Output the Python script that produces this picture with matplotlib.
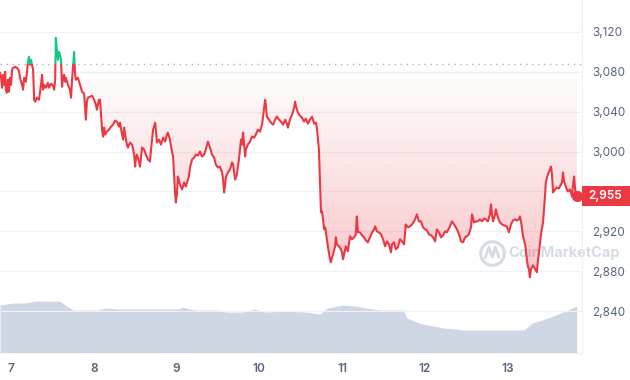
import numpy as np
import matplotlib
matplotlib.use("Agg")
import matplotlib.pyplot as plt
from matplotlib.path import Path
from matplotlib.patches import PathPatch, Rectangle
from matplotlib.transforms import blended_transform_factory

plt.rcParams['font.family'] = ['Inter', 'DejaVu Sans']

# hours since the start of the 7 day window (window starts Oct 6, ~20:48)
start_day = 6.867
hours = [
    0.0, 0.3, 0.6, 0.9, 1.2, 1.5, 1.7, 2.0, 2.3, 2.6, 2.9, 3.2, 3.5, 3.8, 4.4, 4.9, 5.5, 5.8, 6.4, 6.7,
    7.0, 7.5, 7.8, 8.1, 8.4, 8.7, 9.0, 9.3, 9.6, 9.9, 10.2, 10.7, 11.3, 11.9, 12.2, 12.5, 12.8, 13.3, 13.9, 14.2,
    14.8, 15.4, 15.7, 16.0, 16.2, 16.5, 16.8, 17.1, 17.4, 17.7, 18.0, 18.3, 18.6, 18.9, 19.1, 19.7, 20.3, 20.6, 20.9, 21.5,
    21.8, 22.0, 22.6, 23.2, 23.8, 24.4, 24.9, 25.2, 25.5, 26.1, 26.7, 27.3, 27.8, 28.1, 28.7, 29.0,
    29.6, 29.9, 30.2, 30.5, 31.0, 31.6, 32.2, 32.8, 33.4, 33.9, 34.5, 34.8, 35.4, 35.7, 36.0, 36.3, 36.8, 37.1, 37.7, 38.3,
    38.9, 39.2, 39.4, 39.7, 40.3, 40.6, 40.9, 41.2, 41.8, 42.3, 42.9, 43.5, 43.8, 44.4, 45.0, 45.2, 45.5, 46.1, 46.7, 47.3,
    47.9, 48.4, 48.7, 49.3, 49.6, 50.2, 50.8, 51.0, 51.3, 51.6, 52.2, 52.8, 53.4, 53.9, 54.5, 54.8, 55.1, 55.7, 56.3, 56.8,
    57.4, 58.0,
    58.6, 59.2, 59.7, 60.3, 60.9, 61.5, 62.1, 62.6, 63.2, 63.8, 64.4, 64.7, 65.0, 65.3, 65.5, 66.1, 66.7, 67.3, 67.6, 68.2,
    68.7, 69.3, 69.9, 70.2, 70.5, 71.1, 71.3, 71.9, 72.5, 73.1, 73.7, 74.2, 74.8, 75.4, 76.0, 76.3, 76.9, 77.1, 77.4, 78.0,
    78.6, 79.2, 79.8, 80.3, 80.9, 81.5, 82.1, 82.7, 83.2, 83.5, 84.1, 84.7, 85.3, 85.6, 85.8, 86.4, 87.0, 87.6, 88.2, 88.7,
    89.3, 89.9, 90.5, 91.1, 91.6, 91.9,
    92.5, 92.8, 93.1, 93.4, 93.7, 94.0, 94.3, 94.5, 94.8, 95.1, 95.7, 96.0, 96.3, 96.6, 97.2, 97.4, 97.7, 98.3, 98.9, 99.2,
    99.5, 99.8, 100.3, 100.9, 101.5, 102.1, 102.7, 103.2, 103.5, 103.8, 104.4, 105.0, 105.6, 106.1, 106.7, 107.3, 107.9, 108.5,
    108.8, 109.3, 109.9, 110.5, 111.1, 111.7, 112.2, 112.8, 113.4, 113.7, 114.3, 114.8, 115.4, 116.0, 116.6, 117.2, 117.7,
    118.3, 118.9, 119.5, 120.1, 120.6, 120.9, 121.5,
    122.1, 122.7, 123.3, 123.8, 124.4, 125.0, 125.6, 126.2, 126.7, 127.3, 127.9, 128.5, 129.1, 129.6, 130.5, 131.1, 131.7,
    132.2, 132.8, 133.4, 133.7, 134.3, 134.9, 135.4, 136.0, 136.6, 136.9, 137.5, 138.0, 138.6, 139.2, 139.8, 140.4, 140.9,
    141.5, 142.1, 142.4, 142.7, 143.0, 143.6, 143.8, 144.4, 145.0, 145.6, 146.2, 147.0, 147.6, 148.2, 148.8, 149.4, 149.9,
    150.5, 150.8, 151.1, 151.7, 152.3, 152.5, 152.8, 153.1, 153.4, 153.7, 154.0, 154.6, 155.2, 155.7, 156.0, 156.6, 156.9,
    157.5, 158.1, 158.3, 158.9, 159.5, 159.8, 160.1, 160.4, 161.0, 161.5, 162.1, 162.4, 163.0, 163.3, 163.6, 163.9, 164.4,
    164.7, 165.3, 165.9, 166.2, 166.5, 166.8, 167.0, 167.3,
]
price = [
    3079, 3075, 3064, 3077, 3067, 3080, 3062, 3059, 3072, 3060, 3074, 3067, 3082, 3084, 3085, 3084, 3081, 3074, 3067, 3062,
    3074, 3070, 3079, 3090, 3095, 3087, 3092, 3087, 3082, 3052, 3050, 3054, 3052, 3067, 3077, 3062, 3067, 3064, 3069, 3064,
    3068, 3066, 3062, 3072, 3114, 3102, 3092, 3100, 3097, 3092, 3065, 3074, 3077, 3070, 3074, 3067, 3062, 3054, 3072, 3100,
    3077, 3072, 3074, 3067, 3060, 3058, 3032, 3050, 3054, 3055, 3056, 3052, 3047, 3042, 3052, 3052,
    3022, 3015, 3024, 3017, 3020, 3022, 3025, 3027, 3031, 3030, 3025, 3029, 3017, 3012, 3024, 3017, 3007, 3004, 3009, 3007,
    2997, 2985, 2992, 2997, 2990, 2985, 2994, 3004, 3002, 2997, 2992, 2990, 3002, 3022, 3029, 3022, 3009, 3012, 3007, 3014,
    3010, 3017, 3019, 3012, 3005, 2995, 2957, 2949, 2957, 2975, 2967, 2962, 2969, 2965, 2972, 2975, 2984, 2992, 2994, 2997,
    2996, 3000,
    2995, 2997, 3002, 3010, 3004, 2997, 2994, 2987, 2984, 2985, 2979, 2972, 2959, 2967, 2974, 2979, 2982, 2989, 2987, 2972,
    2977, 2992, 3012, 3007, 3019, 2995, 3002, 3007, 3010, 3015, 3014, 3017, 3022, 3020, 3027, 3035, 3052, 3047, 3035, 3032,
    3029, 3027, 3032, 3035, 3032, 3030, 3027, 3032, 3028, 3024, 3032, 3037, 3044, 3050, 3046, 3039, 3036, 3034, 3030, 3033,
    3028, 3032, 3035, 3028, 3029, 3024,
    3002, 2972, 2939, 2940, 2932, 2922, 2924, 2920, 2912, 2905, 2892, 2889, 2894, 2897, 2905, 2914, 2907, 2905, 2902, 2899,
    2892, 2897, 2905, 2900, 2915, 2912, 2914, 2917, 2935, 2919, 2919, 2916, 2914, 2911, 2909, 2914, 2919, 2922,
    2925, 2920, 2919, 2917, 2912, 2905, 2910, 2907, 2899, 2907, 2909, 2902, 2904, 2912, 2910, 2907, 2927,
    2924, 2925, 2927, 2930, 2934, 2937, 2930,
    2930, 2924, 2922, 2921, 2917, 2916, 2914, 2910, 2922, 2919, 2914, 2916, 2920, 2919, 2925, 2930, 2927,
    2924, 2920, 2914, 2910, 2909, 2914, 2915, 2917, 2924, 2937, 2929, 2930, 2930, 2932, 2930, 2933, 2932,
    2930, 2937, 2947, 2937, 2930, 2937, 2942, 2934, 2929, 2927, 2926, 2925, 2919, 2927, 2931, 2932, 2931,
    2932, 2935, 2930, 2915, 2907, 2902, 2892, 2885, 2882, 2874, 2882, 2886, 2882, 2879, 2890, 2907, 2917,
    2929, 2957, 2969, 2977, 2982, 2985, 2977, 2959, 2962, 2964, 2963, 2965, 2969, 2979, 2970, 2967, 2962,
    2960, 2962, 2955, 2967, 2975, 2962, 2955, 2955,
]
open_price = 3088

# 24h volume (relative units)
vol_hours = [0.0, 3.5, 7.0, 10.4, 17.4, 18.9, 21.2, 28.1, 30.5, 35.1, 39.7, 51.3, 53.1, 56.3, 63.2, 65.5, 70.2, 73.7,
             77.1, 81.8, 88.7, 92.8, 94.8, 99.5, 103.0, 109.9, 116.9, 118.0, 121.5, 128.8, 134.6, 152.0, 154.3, 158.9,
             163.9, 167.3]
volume = [48, 50, 50, 52, 52, 48, 43, 43, 45, 44, 44, 44, 46, 43, 43, 41, 41, 44,
          41, 42, 41, 39, 45, 48, 47, 43, 43, 35, 30, 25, 23, 23, 30, 35,
          42, 47]

day_ticks = [7, 8, 9, 10, 11, 12, 13]
price_ticks = [2840, 2880, 2920, 2960, 3000, 3040, 3080, 3120]

RED = '#ea3943'
GREEN = '#16c784'
GREY = '#58667e'

t = start_day + np.array(hours) / 24.0
p = np.array(price, dtype=float)
tv = start_day + np.array(vol_hours) / 24.0

fig = plt.figure(figsize=(6.3, 3.8), dpi=100)
rect = [0.0, 27 / 380, 582 / 630, 353 / 380]
xlim = (start_day, start_day + 168.8 / 24)
ylim = (2798, 3152)

# volume underneath
vax = fig.add_axes(rect, zorder=0)
vax.fill_between(tv, volume, color='#cfd6e4', lw=0)
vax.set_xlim(xlim)
vax.set_ylim(0, max(volume) * 6.8)
vax.axis('off')

ax = fig.add_axes(rect, zorder=1)
ax.patch.set_alpha(0)

for yv in price_ticks:
    ax.axhline(yv, color='#eff2f5', lw=0.9, zorder=0)
ax.axhline(open_price, color='#a6b0c3', lw=1.0, ls=(0, (1, 3.3)), zorder=0.5)

# gradient fills between price and opening price
verts = np.column_stack([np.r_[t[0], t, t[-1]], np.r_[open_price, p, open_price]])
clip = PathPatch(Path(verts), transform=ax.transData, facecolor='none', edgecolor='none')
ax.add_patch(clip)

def grad(color, a_top, a_bot):
    rgba = np.zeros((256, 1, 4))
    rgba[..., :3] = matplotlib.colors.to_rgb(color)
    rgba[:, 0, 3] = np.linspace(a_top, a_bot, 256)
    return rgba

im_r = ax.imshow(grad(RED, 0.0, 0.3), extent=(t[0], t[-1], 2860, open_price),
                 aspect='auto', origin='upper', interpolation='bilinear', zorder=1)
im_r.set_clip_path(clip)
im_g = ax.imshow(grad(GREEN, 0.3, 0.0), extent=(t[0], t[-1], open_price, 3120),
                 aspect='auto', origin='upper', interpolation='bilinear', zorder=1)
im_g.set_clip_path(clip)

# price line: green above open, red below
below = Rectangle((t[0] - 1, 2700), 10, open_price - 2700, transform=ax.transData)
above = Rectangle((t[0] - 1, open_price), 10, 500, transform=ax.transData)
l_red, = ax.plot(t, p, color=RED, lw=1.5, zorder=3, solid_joinstyle='round')
l_red.set_clip_path(below)
l_grn, = ax.plot(t, p, color=GREEN, lw=1.5, zorder=3, solid_joinstyle='round')
l_grn.set_clip_path(above)
ax.plot(t[-1], p[-1], 'o', color=RED, ms=7, zorder=4, clip_on=False)

# watermark
ax.text(0.873, 0.283, 'CoinMarketCap', transform=ax.transAxes, fontsize=10.5,
        fontweight='bold', color='#a6b0c3', alpha=0.45, va='center', ha='left',
        zorder=0.8, clip_on=False)
ax.plot([0.845], [0.283], transform=ax.transAxes, marker='o', ms=17, mfc='none',
        mec='#a6b0c3', mew=2.2, alpha=0.45, zorder=0.8)
ax.plot([0.834, 0.840, 0.846, 0.851, 0.857], [0.270, 0.300, 0.272, 0.300, 0.272],
        transform=ax.transAxes, color='#a6b0c3', lw=2, alpha=0.45, zorder=0.8)

ax.set_xlim(xlim)
ax.set_ylim(ylim)
ax.set_xticks(day_ticks)
ax.set_xticklabels([str(d) for d in day_ticks], fontweight='semibold')
ax.set_yticks(price_ticks)
ax.set_yticklabels([f'{v:,}' for v in price_ticks])
ax.yaxis.tick_right()
ax.tick_params(axis='x', length=0, pad=7, labelsize=8.5, labelcolor=GREY)
ax.tick_params(axis='y', length=0, pad=7.5, labelsize=8.5, labelcolor=GREY)
for s in ['top', 'left']:
    ax.spines[s].set_visible(False)
ax.spines['right'].set_color('#eff2f5')
ax.spines['bottom'].set_color('#eff2f5')

# current price tag
tr = blended_transform_factory(fig.transFigure, ax.transData)
fig.add_artist(Rectangle((582 / 630, p[-1] - 10), 1 - 582 / 630, 20, transform=tr,
                         facecolor=RED, edgecolor='none', zorder=5))
fig.text(0.961, p[-1], f'{int(p[-1]):,}', transform=tr, color='white', fontsize=8.5,
         fontweight='semibold', ha='center', va='center', zorder=6)

fig.savefig('out.png', dpi=100)
